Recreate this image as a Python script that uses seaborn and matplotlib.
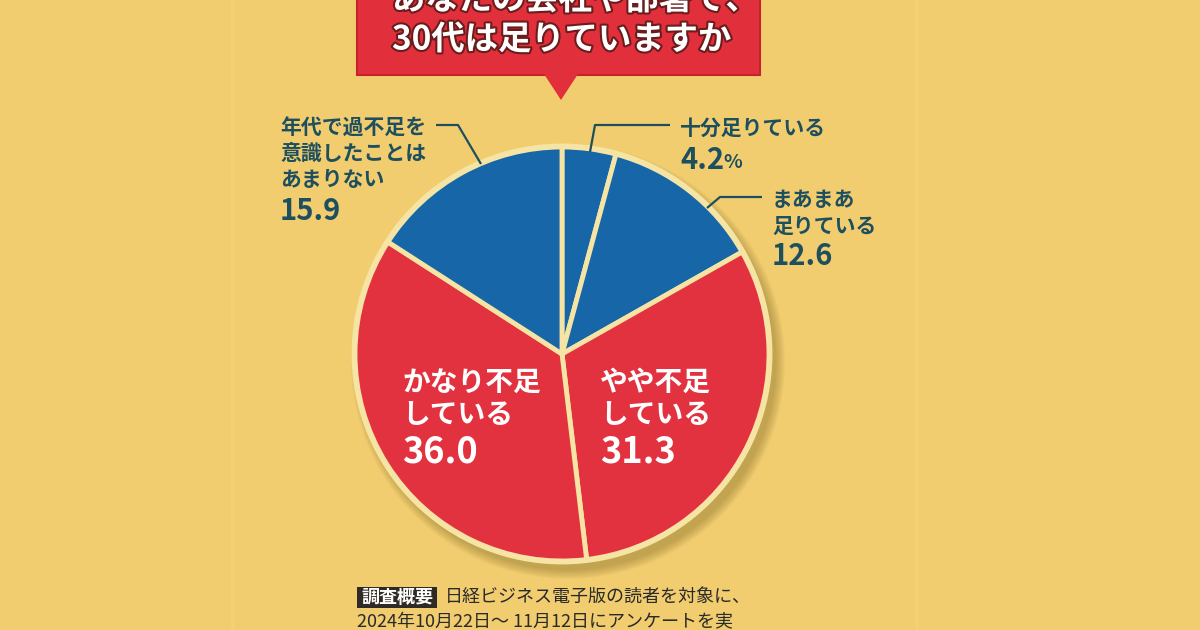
import matplotlib.pyplot as plt
import matplotlib.patches as mpatches
import matplotlib.patheffects as pe
import seaborn as sns

# survey answers, clockwise from 12 o'clock
answers = ["十分足りている", "まあまあ\n足りている", "やや不足\nしている",
           "かなり不足\nしている", "年代で過不足を\n意識したことは\nあまりない"]
shares = [4.2, 12.6, 31.3, 36.0, 15.9]
share_text = ["4.2", "12.6", "31.3", "36.0", "15.9"]
slice_colors = ["#1766a8", "#1766a8", "#e3323f", "#e3323f", "#1766a8"]

title_lines = ["あなたの会社や部署で、", "30代は足りていますか"]
note_head = "調査概要"
note_lines = ["日経ビジネス電子版の読者を対象に、",
              "2024年10月22日～ 11月12日にアンケートを実"]

bg = "#f1cd70"
cream = "#f6e4a4"
ink = "#1d4f5e"

sns.set_theme(style="white")
plt.rcParams["font.family"] = ["Noto Sans CJK JP", "DejaVu Sans"]

fig = plt.figure(figsize=(12, 6.3), dpi=100, facecolor=bg)
ax = fig.add_axes([0, 0, 1, 1])
ax.set_facecolor(bg)

cx, cy, r = 562, 354, 207

# soft shadow under the pie
for k in range(10):
    ax.add_patch(mpatches.Circle((cx + 6, cy + 8), r + 10 - k, color="#7a6420",
                                 alpha=0.045, lw=0, zorder=1))

wedges, _ = ax.pie(shares, colors=slice_colors, startangle=-90, counterclock=True,
                   center=(cx, cy), radius=r,
                   wedgeprops=dict(edgecolor=cream, linewidth=3.5))
for w in wedges:
    w.set_zorder(2)
ax.add_patch(mpatches.Circle((cx, cy), r + 1, fill=False, ec=cream, lw=3.5, zorder=3))

ax.set_xlim(0, 1200)
ax.set_ylim(630, 0)
ax.set_aspect("auto")
ax.axis("off")

# faint panel seams in the background
for sx in (233, 917):
    ax.axvline(sx, color="#f2d076", lw=3, zorder=0)

# title callout
ax.add_patch(mpatches.Rectangle((357, -20), 403, 95, fc="#e1303b", ec="#c4222c",
                                lw=1.5, zorder=4))
ax.add_patch(mpatches.Polygon([(544, 74), (578, 74), (561, 100)], closed=True,
                              fc="#e1303b", ec="none", zorder=4))
outline = [pe.withStroke(linewidth=3, foreground="#6b1c1c")]
ax.text(392, 0, title_lines[0], color="white", fontsize=24, fontweight="bold",
        va="center", ha="left", path_effects=outline, zorder=5)
ax.text(392, 40, title_lines[1], color="white", fontsize=24, fontweight="bold",
        va="center", ha="left", path_effects=outline, zorder=5)

# outside labels
def outside(x, ys, label, value, numy):
    for yy, line in zip(ys, label.split("\n")):
        ax.text(x, yy, line, color=ink, fontsize=15, fontweight="bold",
                va="center", ha="left", zorder=5)
    ax.text(x, numy, value, color=ink, fontsize=21, fontweight="bold",
            va="center", ha="left", zorder=5)

outside(280, [127, 153, 179], answers[4], share_text[4], 211)
outside(680, [128], answers[0], share_text[0], 160)
ax.text(723, 162, "%", color=ink, fontsize=14, fontweight="bold",
        va="center", ha="left", zorder=5)
outside(772, [200, 226], answers[1], share_text[1], 256)

leader = dict(color=ink, lw=1.6, zorder=5, solid_capstyle="butt")
ax.plot([436, 458, 481], [125, 125, 164], **leader)
ax.plot([670, 595, 590], [125, 125, 152], **leader)
ax.plot([762, 720, 707], [197, 197, 208], **leader)

# inside labels
def inside(x, label, value):
    for yy, line in zip([383, 415], label.split("\n")):
        ax.text(x, yy, line, color="white", fontsize=20, fontweight="bold",
                va="center", ha="left", zorder=5)
    ax.text(x, 452, value, color="white", fontsize=26, fontweight="bold",
            va="center", ha="left", zorder=5)

inside(402, answers[3], share_text[3])
inside(600, answers[2], share_text[2])

# survey note
ax.add_patch(mpatches.Rectangle((357, 587), 80, 21, fc="#2f2a25", ec="none", zorder=4))
ax.text(397, 597, note_head, color="white", fontsize=13, fontweight="bold",
        va="center", ha="center", zorder=5)
ax.text(445, 597, note_lines[0], color="#2a2a2a", fontsize=13,
        va="center", ha="left", zorder=5)
ax.text(357, 622, note_lines[1], color="#2a2a2a", fontsize=13,
        va="center", ha="left", zorder=5)

fig.savefig("out.png", dpi=100, facecolor=bg)
